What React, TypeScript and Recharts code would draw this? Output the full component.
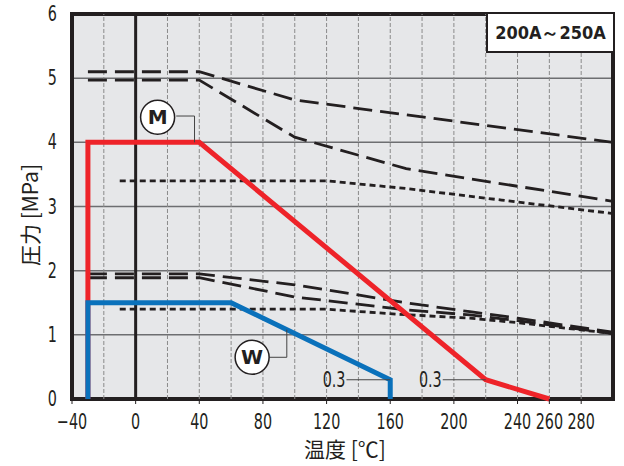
import React from 'react';
import {
  LineChart,
  Line,
  XAxis,
  YAxis,
  CartesianGrid,
  ReferenceLine,
  ReferenceArea,
  ReferenceDot,
} from 'recharts';

// temperature [°C] / pressure [MPa] for each curve
const redTemp = [-30, -30, 40, 220, 260];
const redPress = [0, 4, 4, 0.3, 0];
const blueTemp = [-30, -30, 60, 160, 160];
const bluePress = [0, 1.5, 1.5, 0.3, 0];

const hiATemp = [-30, 40, 100, 300];
const hiAPress = [5.1, 5.1, 4.66, 4.0];
const hiBTemp = [-30, 40, 100, 170, 300];
const hiBPress = [4.97, 4.97, 4.08, 3.59, 3.08];
const hiCTemp = [-10, 120, 170, 230, 300];
const hiCPress = [3.4, 3.4, 3.28, 3.1, 2.89];

const loATemp = [-30, 40, 100, 170, 210, 240, 300];
const loAPress = [1.95, 1.95, 1.78, 1.5, 1.36, 1.26, 1.04];
const loBTemp = [-30, 40, 100, 170, 210, 240, 300];
const loBPress = [1.89, 1.89, 1.59, 1.39, 1.31, 1.22, 1.02];
const loCTemp = [-10, 120, 165, 210, 240, 300];
const loCPress = [1.4, 1.4, 1.32, 1.26, 1.19, 1.02];

const xTicks = [-40, 0, 40, 80, 120, 160, 200, 240, 260, 280];
const yTicks = [0, 1, 2, 3, 4, 5, 6];
const xGrid = [-20, 20, 40, 60, 80, 100, 120, 140, 160, 180, 200, 220, 240, 260, 280];

const toPoints = (xs: number[], ys: number[]) => xs.map((x, i) => ({ x, y: ys[i] }));

const FONT = "'DejaVu Sans Condensed', 'DejaVu Sans', sans-serif";
const CJK = "'Noto Sans CJK JP', 'Noto Sans', sans-serif";
const INK = '#231f20';
const SQUEEZE = 0.76;

const longDash = '19 8';
const shortDash = '6 4';

const dashed = [
  { key: 'hiA', data: toPoints(hiATemp, hiAPress), dash: longDash },
  { key: 'hiB', data: toPoints(hiBTemp, hiBPress), dash: longDash },
  { key: 'hiC', data: toPoints(hiCTemp, hiCPress), dash: shortDash },
  { key: 'loA', data: toPoints(loATemp, loAPress), dash: longDash },
  { key: 'loB', data: toPoints(loBTemp, loBPress), dash: longDash },
  { key: 'loC', data: toPoints(loCTemp, loCPress), dash: shortDash },
];

const fmtX = (v: number) => (v < 0 ? `\u2212${Math.abs(v)}` : String(v));

// condensed text, squeezed horizontally like the original's narrow face
const Narrow = ({ x, y, anchor, children }: { x: number; y: number; anchor: string; children: string }) => (
  <g transform={`translate(${x},${y}) scale(${SQUEEZE},1)`}>
    <text x={0} y={0} textAnchor={anchor} fontSize={21} fontFamily={FONT} fill={INK}>
      {children}
    </text>
  </g>
);

// eslint-disable-next-line @typescript-eslint/no-explicit-any
const XTick = ({ x, y, payload }: any) => (
  <Narrow x={x} y={y + 25} anchor="middle">
    {fmtX(payload.value)}
  </Narrow>
);

// eslint-disable-next-line @typescript-eslint/no-explicit-any
const YTick = ({ x, y, payload }: any) => (
  <Narrow x={x} y={y + 7} anchor="end">
    {String(payload.value)}
  </Narrow>
);

// eslint-disable-next-line @typescript-eslint/no-explicit-any
const CalloutLabel = ({ viewBox, value }: any) => (
  <Narrow x={viewBox.x - 1} y={viewBox.y + 7} anchor="end">
    {value}
  </Narrow>
);

export default function App() {
  return (
    <div style={{ position: 'absolute', left: 0, top: 0, width: 624, height: 466, background: '#fff' }}>
      <LineChart
        width={624}
        height={466}
        margin={{ top: 14, right: 11, left: 12, bottom: 37 }}
      >
        <CartesianGrid
          vertical={false}
          stroke="#6d6e71"
          strokeWidth={1.5}
          fill="#e6e7e9"
          fillOpacity={1}
        />
        <XAxis
          type="number"
          dataKey="x"
          domain={[-40, 300]}
          ticks={xTicks}
          interval={0}
          allowDataOverflow
          height={30}
          tickSize={5}
          tickMargin={0}
          tickLine={{ stroke: INK, strokeWidth: 1 }}
          axisLine={false}
          tick={<XTick />}
        />
        <YAxis
          type="number"
          domain={[0, 6]}
          ticks={yTicks}
          interval={0}
          width={60}
          tickSize={0}
          tickMargin={15}
          tickLine={false}
          axisLine={false}
          tick={<YTick />}
        />
        {xGrid.map((x) => (
          <ReferenceLine key={x} x={x} stroke="#8a8a8a" strokeWidth={1} strokeDasharray="4 2" />
        ))}
        <ReferenceLine x={0} stroke={INK} strokeWidth={3} />

        {dashed.map((s) => (
          <Line
            key={s.key}
            data={s.data}
            dataKey="y"
            type="linear"
            stroke={INK}
            strokeWidth={2.8}
            strokeDasharray={s.dash}
            dot={false}
            isAnimationActive={false}
          />
        ))}
        <Line
          data={toPoints(redTemp, redPress)}
          dataKey="y"
          type="linear"
          stroke="#ee2329"
          strokeWidth={5}
          dot={false}
          isAnimationActive={false}
        />
        <Line
          data={toPoints(blueTemp, bluePress)}
          dataKey="y"
          type="linear"
          stroke="#0a71bb"
          strokeWidth={5}
          dot={false}
          isAnimationActive={false}
        />

        {/* plot border */}
        <ReferenceArea x1={-40} x2={300} y1={0} y2={6} fill="none" fillOpacity={0} stroke={INK} strokeWidth={4} />

        {/* M marker */}
        <ReferenceLine segment={[{ x: 25.5, y: 4.41 }, { x: 37, y: 4.41 }]} stroke="#444" strokeWidth={1} />
        <ReferenceLine segment={[{ x: 37, y: 4.41 }, { x: 37, y: 4.0 }]} stroke="#444" strokeWidth={1} />
        <ReferenceDot
          x={13.8}
          y={4.39}
          r={17}
          fill="#fff"
          stroke={INK}
          strokeWidth={1.5}
          label={{ value: 'M', position: 'center', fontSize: 20, fontWeight: 700, fill: INK, fontFamily: 'DejaVu Sans' }}
        />
        {/* W marker */}
        <ReferenceLine segment={[{ x: 84, y: 0.65 }, { x: 95, y: 0.65 }]} stroke="#444" strokeWidth={1} />
        <ReferenceLine segment={[{ x: 95, y: 0.65 }, { x: 95, y: 1.08 }]} stroke="#444" strokeWidth={1} />
        <ReferenceDot
          x={73.2}
          y={0.65}
          r={17}
          fill="#fff"
          stroke={INK}
          strokeWidth={1.5}
          label={{ value: 'W', position: 'center', fontSize: 20, fontWeight: 700, fill: INK, fontFamily: 'DejaVu Sans' }}
        />

        {/* 0.3 callouts */}
        <ReferenceLine segment={[{ x: 132.5, y: 0.3 }, { x: 160, y: 0.3 }]} stroke="#444" strokeWidth={1} />
        <ReferenceDot x={132.5} y={0.3} r={0} fill="none" stroke="none" label={<CalloutLabel value="0.3" />} />
        <ReferenceLine segment={[{ x: 193, y: 0.3 }, { x: 220, y: 0.3 }]} stroke="#444" strokeWidth={1} />
        <ReferenceDot x={193} y={0.3} r={0} fill="none" stroke="none" label={<CalloutLabel value="0.3" />} />
      </LineChart>

      {/* current range box */}
      <div
        style={{
          position: 'absolute',
          left: 486,
          top: 14,
          width: 127,
          height: 39,
          boxSizing: 'border-box',
          background: '#fff',
          border: `2px solid ${INK}`,
          borderTop: 'none',
          borderRight: 'none',
          display: 'flex',
          alignItems: 'center',
          justifyContent: 'center',
          fontFamily: FONT,
          fontWeight: 700,
          fontSize: 18,
          color: INK,
        }}
      >
        200A～250A
      </div>

      <div
        style={{
          position: 'absolute',
          left: 29,
          top: 215,
          transform: 'translate(-50%, -50%) rotate(-90deg)',
          whiteSpace: 'nowrap',
          lineHeight: 1,
          fontFamily: CJK,
          fontSize: 21,
          color: INK,
        }}
      >
        圧力 [MPa]
      </div>
      <div
        style={{
          position: 'absolute',
          left: 345,
          top: 448,
          transform: 'translate(-50%, -50%)',
          whiteSpace: 'nowrap',
          lineHeight: 1,
          fontFamily: CJK,
          fontSize: 21,
          color: INK,
        }}
      >
        温度 [℃]
      </div>
    </div>
  );
}
